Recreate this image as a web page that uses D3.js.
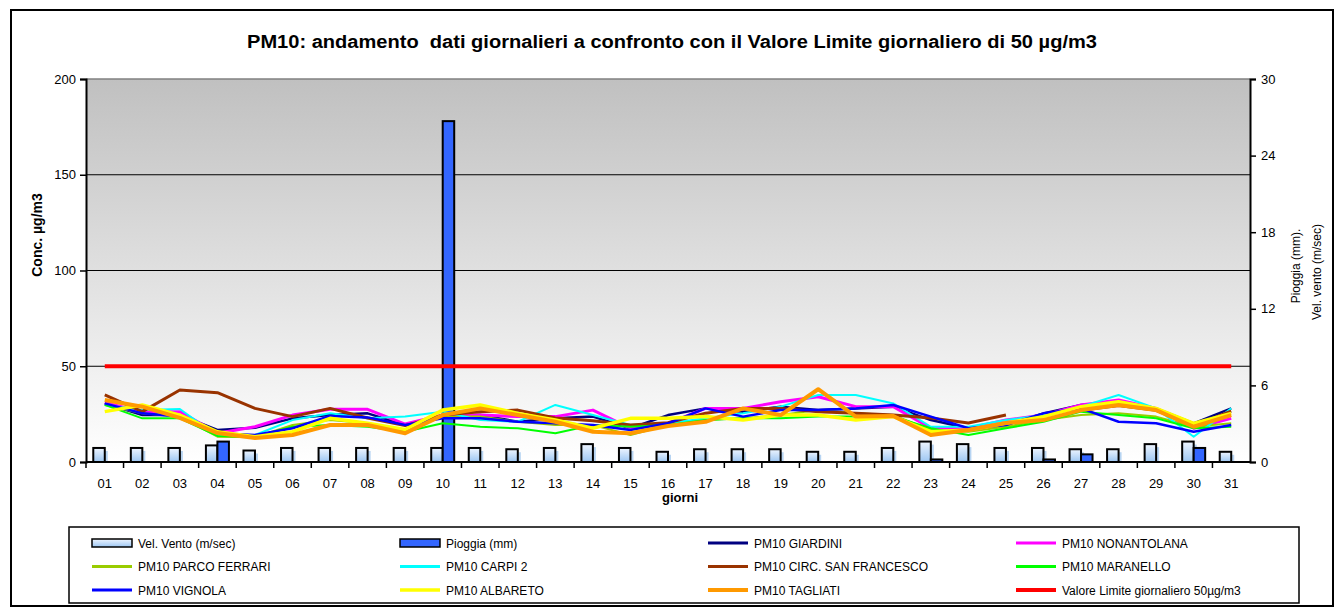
<!DOCTYPE html>
<html>
<head>
<meta charset="utf-8">
<script src="https://cdn.jsdelivr.net/npm/d3@7"></script>
<style>
  body { margin: 0; background: #fff; }
  text { font-family: Arial, 'Liberation Sans', sans-serif; }
</style>
</head>
<body>
<svg id="chart" width="1343" height="609"></svg>
<script>
const days = ['01', '02', '03', '04', '05', '06', '07', '08', '09', '10', '11', '12', '13', '14', '15', '16',
  '17', '18', '19', '20', '21', '22', '23', '24', '25', '26', '27', '28', '29', '30', '31']

// right axis series (bars)
const windSpeed = [1.1, 1.1, 1.1, 1.3, 0.9, 1.1, 1.1, 1.1, 1.1, 1.1, 1.1, 1.0, 1.1, 1.4, 1.1, 0.8,
  1.0, 1.0, 1.0, 0.8, 0.8, 1.1, 1.6, 1.4, 1.1, 1.1, 1.0, 1.0, 1.4, 1.6, 0.8]
const rain = [0, 0, 0, 1.6, 0, 0, 0, 0, 0, 26.7, 0, 0, 0, 0, 0, 0,
  0, 0, 0, 0, 0, 0, 0.2, 0, 0, 0.2, 0.6, 0, 0, 1.1, 0]

// left axis series (µg/m3)
const giardini = [30.6, 24.5, 24.5, 16.7, 17.9, 22.8, 24.5, 25.4, 19.3, 23.7, 24.5, 21, 22.8, 23.7, 17.6, 24.5,
  28, 26.3, 28.9, 27.1, 28, 28.9, 21.9, 17.6, 19.3, 25.4, 29.8, 31.5, 28, 20.2, 28]
const nonantolana = [31, 26.3, 26.3, 15, 18.4, 24.5, 27.5, 27.5, 19.8, 24.5, 24.5, 23.7, 23.7, 27.1, 17.6, 20.2,
  28, 28, 31.5, 34.1, 28.9, 28.9, 17.6, 17.6, 21.9, 24.5, 29.8, 32.4, 28, 17.6, 22.8]
const parcoFerrari = [29.8, 25.4, 23.7, 13.2, 12.9, 19.3, 21.9, 20.2, 16.7, 23.7, 23.7, 21, 19.3, 19.3, 14.1, 19.3,
  21.9, 22.8, 24.5, 27.1, 25.4, 24.5, 16.7, 15.8, 18.4, 21.9, 24.5, 25.4, 23.7, 18.4, 20.2]
const carpi2 = [29.8, 27.1, 27.7, 13.6, 14.1, 21.9, 25.4, 22.8, 23.7, 26.3, 21.9, 21, 29.8, 24.5, 19.3, 20.2,
  22.8, 25.4, 28.9, 35, 35, 30.6, 18.4, 18.4, 21.9, 24.5, 28.9, 35, 28, 13.2, 28]
const circSanFrancesco = [35, 26.3, 37.6, 36.2, 28, 23.7, 28, 23, 19, 24.5, 26.3, 27.1, 23, 21.6, 19.3, 20.5,
  25.5, 28, 28, 26.3, 25.5, 24.5, 23, 20.4, 24.5, null, 27, 29.5, 27, 19, 26.6]
const maranello = [29.8, 22.8, 22.8, 13.6, 13.2, 18.4, 19.3, 18.4, 15.8, 20.2, 18.4, 17.6, 15, 19.3, 18.4, 19.3,
  21.9, 22.8, 22.8, 23.7, 23.7, 23.7, 17.6, 14.1, 17.6, 21, 26.3, 24.5, 22.8, 17.6, 18.4]
const vignola = [30.6, 25.4, 23.7, 15, 14.1, 17.6, 24, 23.3, 19.3, 22.8, 22.8, 21, 20.2, 19.3, 16.7, 20.2,
  28, 23.7, 27.1, 27.1, 28, 29.8, 23.7, 17.6, 19.3, 25.4, 28, 21, 20.2, 15.8, 19.3]
const albareto = [26.3, 29.8, 24.5, 15.8, 13.2, 15.8, 22.8, 20.2, 17, 27.1, 29.8, 25.4, 21.9, 17.6, 22.8, 22.8,
  23.7, 21.9, 24.5, 24.5, 21.9, 23.7, 15.8, 16.7, 20.4, 23.7, 28.9, 31.5, 28, 20.2, 25.4]
const tagliati = [32.4, 28.9, 23, 15.1, 12.5, 14.1, 19.3, 19.3, 15, 24.5, 28, 24.5, 21, 15.8, 15, 18.8,
  21, 28, 24.5, 38, 23.7, 24, 14.1, 16.7, 20.4, 21.9, 27.1, 29.8, 27.1, 18.4, 24.5]
const valoreLimite = [50, 50, 50, 50, 50, 50, 50, 50, 50, 50, 50, 50, 50, 50, 50, 50,
  50, 50, 50, 50, 50, 50, 50, 50, 50, 50, 50, 50, 50, 50, 50]

const leftTicks = [0, 50, 100, 150, 200]
const rightTicks = [0, 6, 12, 18, 24, 30]

const lineSeries = [
  { name: 'PM10 GIARDINI', values: giardini, color: '#000080', width: 2.5 },
  { name: 'PM10 NONANTOLANA', values: nonantolana, color: '#ff00ff', width: 3 },
  { name: 'PM10 PARCO FERRARI', values: parcoFerrari, color: '#99cc00', width: 2 },
  { name: 'PM10 CARPI 2', values: carpi2, color: '#00ffff', width: 2 },
  { name: 'PM10 CIRC. SAN FRANCESCO', values: circSanFrancesco, color: '#993300', width: 3 },
  { name: 'PM10 MARANELLO', values: maranello, color: '#00ff00', width: 2 },
  { name: 'PM10 VIGNOLA', values: vignola, color: '#0000ff', width: 2.5 },
  { name: 'PM10 ALBARETO', values: albareto, color: '#ffff00', width: 3.5 },
  { name: 'PM10 TAGLIATI', values: tagliati, color: '#ff9900', width: 4 },
  { name: 'Valore Limite giornaliero 50µg/m3', values: valoreLimite, color: '#ff0000', width: 4 }
]

const plot = { left: 86, right: 1250, top: 79, bottom: 462 }

const svg = d3.select('#chart')

const defs = svg.append('defs')
const bg = defs.append('linearGradient').attr('id', 'bgGrad')
  .attr('x1', 0).attr('y1', 0).attr('x2', 0).attr('y2', 1)
bg.append('stop').attr('offset', '0%').attr('stop-color', '#c0c0c0')
bg.append('stop').attr('offset', '100%').attr('stop-color', '#ffffff')
const windGrad = defs.append('linearGradient').attr('id', 'windGrad')
  .attr('x1', 0).attr('y1', 0).attr('x2', 0).attr('y2', 1)
windGrad.append('stop').attr('offset', '0%').attr('stop-color', '#eef5ff')
windGrad.append('stop').attr('offset', '100%').attr('stop-color', '#9cc6f2')

// outer frame
svg.append('rect')
  .attr('x', 11).attr('y', 10).attr('width', 1322).attr('height', 596)
  .attr('fill', '#fff').attr('stroke', '#000').attr('stroke-width', 2)

const x = d3.scaleBand().domain(days).range([plot.left, plot.right]).padding(0)
const y = d3.scaleLinear().domain([0, 200]).range([plot.bottom, plot.top])
const y2 = d3.scaleLinear().domain([0, 30]).range([plot.bottom, plot.top])
const sub = d3.scaleBand().domain(['vento', 'pioggia'])
  .range([x.bandwidth() / 2 - 11.5, x.bandwidth() / 2 + 11.5])

svg.append('rect')
  .attr('x', plot.left).attr('y', plot.top)
  .attr('width', plot.right - plot.left).attr('height', plot.bottom - plot.top)
  .attr('fill', 'url(#bgGrad)')

svg.append('line')
  .attr('x1', plot.left).attr('x2', plot.right)
  .attr('y1', plot.top).attr('y2', plot.top)
  .attr('stroke', '#808080').attr('stroke-width', 1.5)

svg.append('g')
  .selectAll('line')
  .data(leftTicks.filter(d => d > 0 && d < 200))
  .join('line')
  .attr('x1', plot.left).attr('x2', plot.right)
  .attr('y1', d => y(d)).attr('y2', d => y(d))
  .attr('stroke', '#000').attr('stroke-width', 1)

// bars
const barG = svg.append('g')
barG.selectAll('rect.shadow')
  .data(windSpeed)
  .join('rect')
  .attr('class', 'shadow')
  .attr('x', (d, i) => x(days[i]) + sub('vento') + 3)
  .attr('y', d => y2(d) + 3)
  .attr('width', sub.bandwidth())
  .attr('height', d => y2(0) - y2(d) - 3)
  .attr('fill', '#b7d4f2')
barG.selectAll('rect.wind')
  .data(windSpeed)
  .join('rect')
  .attr('class', 'wind')
  .attr('x', (d, i) => x(days[i]) + sub('vento'))
  .attr('y', d => y2(d))
  .attr('width', sub.bandwidth())
  .attr('height', d => y2(0) - y2(d))
  .attr('fill', 'url(#windGrad)')
  .attr('stroke', '#000').attr('stroke-width', 2)
barG.selectAll('rect.rain')
  .data(rain.map((v, i) => ({ day: days[i], v })).filter(d => d.v > 0))
  .join('rect')
  .attr('class', 'rain')
  .attr('x', d => x(d.day) + sub('pioggia'))
  .attr('y', d => y2(d.v))
  .attr('width', sub.bandwidth())
  .attr('height', d => y2(0) - y2(d.v))
  .attr('fill', '#3366ff')
  .attr('stroke', '#000').attr('stroke-width', 2)

// lines
const line = d3.line()
  .defined(d => d.v != null)
  .x(d => x(d.day) + x.bandwidth() / 2)
  .y(d => y(d.v))

svg.append('g')
  .selectAll('path')
  .data(lineSeries)
  .join('path')
  .attr('d', s => line(s.values.map((v, i) => ({ day: days[i], v }))))
  .attr('fill', 'none')
  .attr('stroke', s => s.color)
  .attr('stroke-width', s => s.width)
  .attr('stroke-linejoin', 'round')

// axes
const axisLeft = svg.append('g')
  .attr('transform', `translate(${plot.left},0)`)
  .call(d3.axisLeft(y).tickValues(leftTicks).tickSize(6).tickPadding(4))
const axisRight = svg.append('g')
  .attr('transform', `translate(${plot.right},0)`)
  .call(d3.axisRight(y2).tickValues(rightTicks).tickSize(6).tickPadding(5))
const axisBottom = svg.append('g')
  .attr('transform', `translate(0,${plot.bottom})`)
  .call(d3.axisBottom(x).tickSize(0).tickPadding(17))

axisBottom.selectAll('.tick')
  .append('line')
  .attr('x1', -x.bandwidth() / 2).attr('x2', -x.bandwidth() / 2)
  .attr('y1', 0).attr('y2', 6)
  .attr('stroke', '#000').attr('stroke-width', 1.5)

for (const ax of [axisLeft, axisRight, axisBottom]) {
  ax.select('.domain').attr('stroke', '#000').attr('stroke-width', 2)
  ax.selectAll('.tick line').attr('stroke', '#000').attr('stroke-width', 1.5)
  ax.selectAll('text')
    .attr('font-size', 13)
    .attr('fill', '#000')
    .style('font-family', 'Arial, "Liberation Sans", sans-serif')
}
axisBottom.select('.domain').attr('d', `M${plot.left},0H${plot.right}`)

// titles
svg.append('text')
  .attr('x', 672).attr('y', 48)
  .attr('text-anchor', 'middle')
  .attr('font-size', 18).attr('font-weight', 'bold')
  .attr('textLength', 850).attr('lengthAdjust', 'spacingAndGlyphs')
  .style('white-space', 'pre')
  .text('PM10: andamento  dati giornalieri a confronto con il Valore Limite giornaliero di 50 µg/m3')

svg.append('text')
  .attr('transform', 'translate(42,235) rotate(-90)')
  .attr('text-anchor', 'middle')
  .attr('font-size', 14).attr('font-weight', 'bold')
  .text('Conc. µg/m3')

svg.append('text')
  .attr('transform', 'translate(1300,266) rotate(-90)')
  .attr('text-anchor', 'middle')
  .attr('font-size', 12)
  .text('Pioggia (mm).')
svg.append('text')
  .attr('transform', 'translate(1321,272) rotate(-90)')
  .attr('text-anchor', 'middle')
  .attr('font-size', 12)
  .text('Vel. vento (m/sec)')

svg.append('text')
  .attr('x', 680).attr('y', 502)
  .attr('text-anchor', 'middle')
  .attr('font-size', 13).attr('font-weight', 'bold')
  .text('giorni')

// legend
const legendItems = [
  { name: 'Vel. Vento (m/sec)', type: 'bar', fill: 'url(#windGrad)' },
  { name: 'Pioggia (mm)', type: 'bar', fill: '#3366ff' },
  ...lineSeries.map(s => ({ name: s.name, type: 'line', color: s.color, width: s.width }))
]

svg.append('rect')
  .attr('x', 69).attr('y', 527).attr('width', 1230).attr('height', 76)
  .attr('fill', '#fff').attr('stroke', '#000').attr('stroke-width', 1.5)

const legend = svg.append('g')
  .selectAll('g')
  .data(legendItems)
  .join('g')
  .attr('transform', (d, i) => `translate(${92 + (i % 4) * 308},${543 + Math.floor(i / 4) * 23.5})`)

legend.filter(d => d.type === 'bar')
  .append('rect')
  .attr('x', 0).attr('y', -4).attr('width', 40).attr('height', 8)
  .attr('fill', d => d.fill)
  .attr('stroke', '#000').attr('stroke-width', 1.5)

legend.filter(d => d.type === 'line')
  .append('line')
  .attr('x1', 0).attr('x2', 40)
  .attr('stroke', d => d.color)
  .attr('stroke-width', d => Math.max(d.width, 3))

legend.append('text')
  .attr('x', 46).attr('y', 4.5)
  .attr('font-size', 12)
  .text(d => d.name)
</script>
</body>
</html>
